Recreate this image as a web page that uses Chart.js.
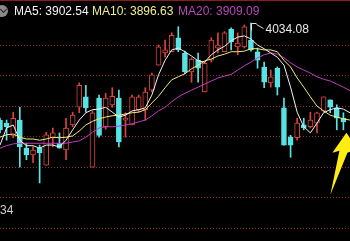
<!DOCTYPE html>
<html>
<head>
<meta charset="utf-8">
<script src="https://cdn.jsdelivr.net/npm/chart.js@4.4.1/dist/chart.umd.min.js"></script>
<style>
  html, body { margin: 0; padding: 0; background: #000; }
  #wrap { position: relative; width: 350px; height: 241px; overflow: hidden; background: #000; }
  #chart { position: absolute; left: 0; top: 0; }
  #topline { position: absolute; left: 0; top: 0; width: 350px; height: 1px; background: #8c1c1c; }
  .txt { position: absolute; font: 12px "Liberation Sans", Arial, sans-serif; line-height: 14px; white-space: nowrap; }
  #icon { position: absolute; left: -4px; top: 5px; width: 12px; height: 12px; border-radius: 50%; background: #8a8a8a; }
  #icon::after { content: ''; position: absolute; left: 5px; top: 2px; width: 4px; height: 4px;
    border-right: 1.5px solid #222; border-bottom: 1.5px solid #222; transform: rotate(45deg); }
</style>
</head>
<body>
<div id="wrap">
  <canvas id="chart" width="350" height="241"></canvas>
  <div id="topline"></div>
  <div id="icon"></div>
  <span class="txt" id="lg5" style="left:14px;top:4px;color:#f4f4f4">MA5: 3902.54</span>
  <span class="txt" id="lg10" style="left:92px;top:4px;color:#f0ee8a">MA10: 3896.63</span>
  <span class="txt" id="lg20" style="left:178px;top:4px;color:#b848b8">MA20: 3909.09</span>
  <span class="txt" id="hiLabel" style="color:#e8e8e8">4034.08</span>
  <span class="txt" id="loLabel" style="left:0;top:203px;color:#cfcfcf">34</span>
</div>
<script>
// daily candles (price units)
const days = Array.from({ length: 54 }, (_, i) => 'D' + (i + 1));
const opens  = [3875,3870,3850,3875,3829,3818,3829,3801,3846,3837,3826,3867,3896,3913,3798,3911,3864,3900,3911,3875,
                3867,3892,3892,3924,3965,3985,3987,4010,3985,3954,3973,3921,3973,3993,3987,4024,3995,3995,4006,3987,
                3962,3936,3960,3895,3847,3846,3867,3864,3870,3890,3908,3895,3878,null];
const highs  = [3878,3875,3888,3896,3837,3831,3834,3855,3862,3854,3878,3888,3936,3932,3890,3916,3919,3928,3924,3887,
                3916,3916,3928,3952,3998,4006,4018,4028,3988,3977,3985,3970,4010,4018,4020,4026,4018,4031,4034.08,3993,
                3970,3957,3962,3911,3850,3878,3878,3888,3888,3913,3908,3900,3887,null];
const lows   = [3854,3842,3846,3798,3810,3805,3772,3801,3831,3829,3810,3864,3887,3888,3798,3847,3860,3896,3831,3847,
                3867,3888,3875,3921,3965,3978,3987,3987,3951,3937,3937,3921,3970,3985,3987,3990,3982,3993,3988,3960,
                3928,3929,3916,3834,3814,3842,3859,3862,3854,3888,3887,3859,3859,null];
const closes = [3859,3864,3878,3831,3818,3826,3821,3851,3854,3829,3862,3883,3932,3895,3887,3850,3911,3914,3839,3878,
                3913,3913,3921,3949,3995,3990,4014,3990,3954,3975,3960,3968,4006,3998,4018,4003,4001,4028,3990,3973,
                3937,3946,3929,3834,3834,3870,3862,3875,3887,3913,3896,3878,3872,null];

const ma5  = [3834,3862,3867,3842,3833,3833,3829,3834,3834,3831,3842,3859,3875,3887,3892,3893,3896,3888,3880,3883,
              3890,3892,3895,3916,3949,3973,3990,3993,3987,3980,3972,3970,3982,3990,3996,4005,4011,4013,4008,3998,
              3992,3985,3978,3965,3929,3888,3864,3854,3870,3887,3892,3895,3893,3887];
const ma10 = [3847,3851,3852,3847,3844,3844,3842,3844,3847,3846,3847,3849,3857,3867,3873,3877,3880,3882,3883,3885,
              3887,3888,3892,3903,3914,3928,3941,3946,3951,3959,3965,3972,3975,3980,3983,3987,3987,3988,3992,3992,
              3990,3990,3987,3973,3962,3944,3929,3913,3898,3890,3883,3880,3877,3875];
const ma20 = [3829,3833,3836,3837,3837,3837,3837,3837,3837,3837,3837,3839,3841,3847,3855,3862,3864,3864,3865,3867,
              3869,3872,3875,3882,3890,3896,3905,3913,3919,3924,3929,3934,3939,3944,3947,3950,3957,3964,3970,3977,
              3982,3985,3983,3977,3969,3962,3957,3952,3946,3942,3939,3934,3929,3923];

const gridLevels = [3998, 3948, 3898, 3848, 3798, 3748, 3698];
const yMin = 3676.8, yMax = 4071.8;

const UP = '#d9443c', DOWN = '#58e4e4';
const isUp = closes.map((c, i) => c != null && c >= opens[i]);
const wickColor = isUp.map((u) => u ? UP : DOWN);

const hiIdx = highs.indexOf(Math.max(...highs.filter((v) => v != null)));
const arrowIdx = 52;

const marks = {
  id: 'marks',
  afterDraw(chart) {
    const { ctx, scales: { x, y } } = chart;
    // flag at the period high
    const hx = Math.round(x.getPixelForValue(hiIdx)) + 0.5;
    const hy = Math.round(y.getPixelForValue(highs[hiIdx])) + 0.5;
    ctx.save();
    ctx.strokeStyle = '#e0e0e0';
    ctx.lineWidth = 1;
    ctx.beginPath();
    ctx.moveTo(hx, hy + 7);
    ctx.lineTo(hx, hy);
    ctx.lineTo(hx + 5, hy);
    ctx.moveTo(hx + 5, hy + 1);
    ctx.lineTo(hx + 12, hy + 5);
    ctx.stroke();
    const lbl = document.getElementById('hiLabel');
    lbl.style.left = (hx + 14) + 'px';
    lbl.style.top = (hy - 2) + 'px';

    // yellow arrow under the last candles
    const tx = x.getPixelForValue(arrowIdx) + 3;
    const ty = y.getPixelForValue(lows[arrowIdx]) + 3;
    ctx.fillStyle = '#ffec12';
    ctx.beginPath();
    ctx.moveTo(tx, ty);
    ctx.lineTo(tx + 11, ty + 16);
    ctx.lineTo(tx + 1, ty + 20);
    ctx.lineTo(tx - 16, ty + 62);
    ctx.lineTo(tx - 7, ty + 18);
    ctx.lineTo(tx - 14, ty + 20);
    ctx.closePath();
    ctx.fill();
    ctx.restore();
  }
};

new Chart(document.getElementById('chart'), {
  type: 'bar',
  data: {
    labels: days,
    datasets: [
      { type: 'line', label: 'MA5', data: ma5, borderColor: '#f2f2f2', borderWidth: 1, pointRadius: 0, tension: 0, order: 0 },
      { type: 'line', label: 'MA10', data: ma10, borderColor: '#eeea7c', borderWidth: 1, pointRadius: 0, tension: 0, order: 0 },
      { type: 'line', label: 'MA20', data: ma20, borderColor: '#c03cc0', borderWidth: 1, pointRadius: 0, tension: 0, order: 0 },
      {
        label: 'body',
        data: opens.map((o, i) => o == null ? null : [o, closes[i]]),
        backgroundColor: isUp.map((u) => u ? '#000' : DOWN),
        borderColor: wickColor,
        borderWidth: 1,
        borderSkipped: false,
        barThickness: 5,
        grouped: false,
        order: 1
      },
      {
        label: 'wick',
        data: lows.map((l, i) => l == null ? null : [l, highs[i]]),
        backgroundColor: wickColor,
        borderWidth: 0,
        barThickness: 1,
        grouped: false,
        order: 2
      }
    ]
  },
  options: {
    responsive: false,
    animation: false,
    devicePixelRatio: 1,
    layout: { padding: 0 },
    plugins: { legend: { display: false }, tooltip: { enabled: false } },
    scales: {
      x: { display: false, offset: false },
      y: {
        min: yMin,
        max: yMax,
        afterBuildTicks: (s) => { s.ticks = gridLevels.map((v) => ({ value: v })); },
        afterFit: (s) => { s.width = 0; },
        ticks: { display: false },
        grid: { color: '#8e2c2c', lineWidth: 1, drawTicks: false },
        border: { display: false, dash: [1, 2] }
      }
    }
  },
  plugins: [marks]
});
</script>
</body>
</html>
